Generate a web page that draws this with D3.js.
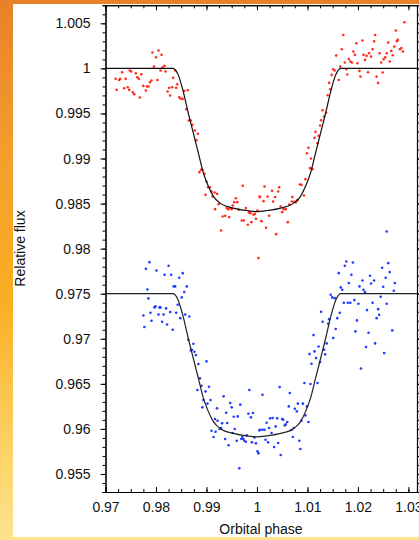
<!DOCTYPE html>
<html>
<head>
<meta charset="utf-8">
<script src="https://cdn.jsdelivr.net/npm/d3@7"></script>
<style>
html,body{margin:0;padding:0;}
body{width:419px;height:540px;overflow:hidden;background:linear-gradient(to bottom,#e8812a 0%,#f59f2c 30%,#f9ae22 55%,#fdd56a 85%,#fde28e 100%);}
svg{display:block;}
text{font-family:"Liberation Sans",Arial,Helvetica,sans-serif;}
</style>
</head>
<body>
<svg id="chart" width="419" height="540"></svg>
<script>
// ---------- data ----------
const xTickValues = [0.97, 0.98, 0.99, 1.0, 1.01, 1.02, 1.03];
const xTickLabels = ["0.97", "0.98", "0.99", "1", "1.01", "1.02", "1.03"];
const yTickValues = [0.955, 0.96, 0.965, 0.97, 0.975, 0.98, 0.985, 0.99, 0.995, 1.0, 1.005];
const yTickLabels = ["0.955", "0.96", "0.965", "0.97", "0.975", "0.98", "0.985", "0.99", "0.995", "1", "1.005"];
const xLabel = "Orbital phase";
const yLabel = "Relative flux";

// red (upper) light curve
const redPhase = [0.9720,0.9722,0.9727,0.9729,0.9733,0.9737,0.9740,0.9744,0.9748,0.9747,0.9751,0.9754,0.9757,0.9760,0.9763,0.9766,0.9768,0.9771,0.9775,0.9780,0.9782,0.9785,0.9788,0.9791,0.9793,0.9805,0.9800,0.9811,0.9796,0.9817,0.9813,0.9809,0.9803,0.9819,0.9823,0.9826,0.9828,0.9832,0.9834,0.9838,0.9840,0.9842,0.9846,0.9849,0.9853,0.9856,0.9863,0.9860,0.9865,0.9869,0.9872,0.9877,0.9880,0.9883,0.9886,0.9889,0.9892,0.9896,0.9898,0.9900,0.9903,0.9907,0.9910,0.9912,0.9916,0.9921,0.9917,0.9924,0.9929,0.9932,0.9937,0.9940,0.9943,0.9945,0.9947,0.9950,0.9952,0.9955,0.9958,0.9961,0.9964,0.9970,0.9972,0.9974,0.9978,0.9982,0.9984,0.9987,0.9989,0.9993,0.9996,0.9998,1.0001,1.0005,1.0003,
1.0006,1.0013,1.0015,1.0021,1.0030,1.0032,1.0036,1.0042,1.0044,1.0009,1.0018,1.0024,1.0038,1.0047,1.0050,1.0053,1.0057,1.0061,1.0064,1.0069,1.0070,1.0074,1.0077,1.0080,1.0085,1.0088,1.0093,1.0096,1.0099,1.0102,1.0105,1.0110,1.0107,1.0114,1.0116,1.0120,1.0122,1.0125,1.0127,1.0130,1.0133,1.0137,1.0140,1.0143,1.0145,1.0148,1.0151,1.0154,1.0157,1.0162,1.0165,1.0168,1.0171,1.0174,1.0177,1.0179,1.0182,1.0185,1.0188,1.0191,1.0194,1.0197,1.0199,1.0203,1.0205,1.0209,1.0211,1.0214,1.0217,1.0220,1.0222,1.0226,1.0229,1.0232,1.0234,1.0237,1.0240,1.0243,1.0246,1.0249,1.0251,1.0254,1.0257,1.0260,1.0263,1.0266,1.0269,1.0272,1.0275,1.0277,1.0279,1.0283,1.0286,1.0289,1.0292];
const redFlux = [0.99884,0.99762,0.99872,0.99884,0.99958,0.99780,0.99884,0.99791,0.99976,0.99762,0.99965,0.99736,0.99714,0.99946,0.99902,0.99884,0.99677,0.99935,0.99806,0.99754,0.99799,0.99799,0.99847,0.99865,1.00176,1.00198,1.00124,1.00150,1.00020,1.00028,1.00013,0.99976,0.99872,0.99965,0.99743,0.99784,0.99699,0.99791,0.99895,0.99976,0.99784,0.99824,0.99680,0.99662,0.99662,0.99751,0.99758,0.99547,0.99422,0.99422,0.99373,0.99311,0.99204,0.99274,0.98849,0.98875,0.98875,0.98830,0.98597,0.98745,0.98682,0.98682,0.98634,0.98579,0.98623,0.98608,0.98438,0.98494,0.98202,0.98357,0.98365,0.98450,0.98438,0.98350,0.98450,0.98438,0.98479,0.98516,0.98560,0.98516,0.98431,0.98313,0.98697,0.98313,0.98450,0.98265,0.98402,0.98394,0.98294,0.98376,0.98387,0.98331,0.98424,0.98579,0.97895,
0.98572,0.98527,0.98690,0.98579,0.98642,0.98523,0.98572,0.98634,0.98682,0.98305,0.98232,0.98365,0.98161,0.98468,0.98405,0.98438,0.98438,0.98294,0.98490,0.98523,0.98572,0.98520,0.98516,0.98538,0.98712,0.98708,0.98590,0.98771,0.99059,0.99119,0.98893,0.98882,0.99000,0.99229,0.99296,0.99170,0.99252,0.99366,0.99425,0.99536,0.99466,0.99507,0.99702,0.99839,0.99769,0.99928,0.99991,0.99976,1.00142,0.99872,1.00020,1.00213,1.00371,1.00065,0.99991,0.99932,1.00105,1.00076,1.00065,1.00187,1.00150,1.00279,1.00057,0.99972,0.99909,1.00309,1.00150,1.00094,1.00139,0.99958,1.00168,1.00131,1.00213,1.00301,1.00371,0.99909,0.99839,1.00168,1.00065,0.99954,1.00102,1.00124,1.00168,1.00286,1.00076,1.00194,1.00146,1.00242,1.00420,1.00301,1.00316,1.00213,1.00227,1.00187,1.00512];

// blue (lower) light curve
const bluePhase = [0.9775,0.9777,0.9780,0.9783,0.9785,0.9787,0.9789,0.9791,0.9797,0.9799,0.9801,0.9805,0.9807,0.9809,0.9812,0.9815,0.9817,0.9820,0.9822,0.9825,0.9828,0.9830,0.9833,0.9835,0.9838,0.9840,0.9843,0.9846,0.9848,0.9851,0.9853,0.9856,0.9858,0.9861,0.9866,0.9864,0.9869,0.9871,0.9874,0.9876,0.9879,0.9884,0.9887,0.9890,0.9894,0.9900,0.9898,0.9905,0.9902,0.9908,0.9892,0.9882,0.9910,0.9914,0.9917,0.9918,0.9921,0.9922,0.9926,0.9929,0.9931,0.9934,0.9937,0.9939,0.9941,0.9944,0.9947,0.9950,0.9952,0.9954,0.9956,0.9960,0.9962,0.9965,0.9967,0.9969,0.9971,0.9973,0.9975,0.9978,0.9980,0.9983,0.9985,0.9988,0.9990,0.9992,0.9995,0.9998,1.0001,1.0003,1.0005,
1.0006,1.0011,1.0015,1.0011,1.0017,1.0019,1.0022,1.0024,1.0026,1.0029,1.0031,1.0034,1.0037,1.0040,1.0042,1.0045,1.0047,1.0050,1.0052,1.0055,1.0057,1.0060,1.0063,1.0065,1.0068,1.0071,1.0073,1.0075,1.0079,1.0081,1.0084,1.0086,1.0088,1.0091,1.0094,1.0096,1.0099,1.0102,1.0104,1.0106,1.0108,1.0112,1.0114,1.0117,1.0120,1.0122,1.0125,1.0127,1.0130,1.0133,1.0135,1.0138,1.0141,1.0143,1.0146,1.0149,1.0151,1.0154,1.0156,1.0159,1.0162,1.0164,1.0166,1.0169,1.0172,1.0174,1.0177,1.0180,1.0182,1.0185,1.0187,1.0190,1.0193,1.0195,1.0198,1.0201,1.0203,1.0206,1.0209,1.0211,1.0214,1.0216,1.0218,1.0221,1.0224,1.0226,1.0229,1.0232,1.0234,1.0237,1.0240,1.0242,1.0245,1.0248,1.0250,1.0252,1.0255,1.0257,1.0260,1.0263,1.0268,1.0271,1.0273,1.0257];
const blueFlux = [0.97259,0.97130,0.97776,0.97547,0.97448,0.97850,0.97289,0.97200,0.97348,0.97359,0.97758,0.97270,0.97348,0.97348,0.97189,0.97270,0.97710,0.97337,0.97159,0.97810,0.97296,0.97710,0.97100,0.97581,0.97581,0.97289,0.97377,0.97677,0.97229,0.97459,0.97728,0.97518,0.97270,0.97581,0.97248,0.96989,0.96871,0.96878,0.96945,0.96856,0.96819,0.96719,0.96561,0.96479,0.96320,0.96749,0.96416,0.96468,0.96280,0.96320,0.96239,0.96431,0.95980,0.95910,0.96110,0.95969,0.96228,0.96091,0.95999,0.96010,0.96062,0.96361,0.95888,0.96180,0.96065,0.95818,0.96287,0.96239,0.95954,0.96135,0.95999,0.95869,0.96139,0.95563,0.96269,0.95888,0.95910,0.95888,0.95869,0.95858,0.95928,0.96169,0.96431,0.96128,0.95851,0.96176,0.95906,0.95840,0.95751,0.95729,0.95984,
0.95991,0.95991,0.95991,0.96379,0.95880,0.96069,0.95851,0.96010,0.96117,0.95954,0.96121,0.95799,0.96028,0.96117,0.95843,0.96464,0.95710,0.96110,0.96102,0.96039,0.96050,0.96076,0.96250,0.96398,0.95988,0.95910,0.96010,0.96224,0.96195,0.96280,0.95869,0.95777,0.96091,0.96280,0.96509,0.96150,0.96250,0.96076,0.96830,0.96498,0.96723,0.97041,0.96860,0.96786,0.96509,0.96915,0.96742,0.97300,0.97189,0.96878,0.96827,0.96949,0.97167,0.97218,0.97488,0.97459,0.97008,0.97451,0.97108,0.97229,0.97728,0.97289,0.97570,0.97544,0.97400,0.97810,0.97858,0.97400,0.97618,0.97400,0.97710,0.97847,0.97429,0.97082,0.97204,0.97388,0.97581,0.96671,0.97647,0.97544,0.97518,0.96908,0.97318,0.97067,0.97699,0.97614,0.97400,0.97647,0.96949,0.97229,0.97329,0.97266,0.97466,0.97788,0.97577,0.96841,0.97677,0.97388,0.97839,0.97740,0.97093,0.97533,0.97618,0.98190];

// fitted transit models
const modelPhase = [0.9700,0.9834,0.9844,0.9854,0.9864,0.9874,0.9884,0.9894,0.9904,0.9914,0.9927,0.9953,0.9980,1.0000,1.0020,1.0047,1.0073,1.0086,1.0096,1.0106,1.0116,1.0126,1.0136,1.0146,1.0156,1.0166,1.0317];
const modelRedFlux = [1.00000,1.00000,0.99928,0.99743,0.99503,0.99281,0.99060,0.98838,0.98689,0.98578,0.98505,0.98450,0.98423,0.98411,0.98423,0.98450,0.98505,0.98578,0.98689,0.98838,0.99060,0.99281,0.99503,0.99743,0.99928,1.00000,1.00000];
const modelBlueFlux = [0.97500,0.97500,0.97428,0.97243,0.97003,0.96781,0.96560,0.96338,0.96189,0.96078,0.96005,0.95950,0.95923,0.95911,0.95923,0.95950,0.96005,0.96078,0.96189,0.96338,0.96560,0.96781,0.97003,0.97243,0.97428,0.97500,0.97500];

// ---------- drawing ----------
const svg = d3.select("#chart");
svg.append("rect").attr("x", 13).attr("y", 4).attr("width", 410).attr("height", 533).attr("fill", "#ffffff");

const plotLeft = 105.5, plotRight = 417, plotTop = 5.3, plotBottom = 492;
const x = d3.scaleLinear().domain([0.97, 1.0317]).range([plotLeft, plotRight]);
const y = d3.scaleLinear().domain([0.953, 1.007]).range([plotBottom, plotTop]);

const xMinor = d3.range(0, 25).map(i => 0.97 + i * 0.0025).filter(v => v < 1.0317);
const yMinor = d3.range(0, 55).map(i => 0.953 + i * 0.001).filter(v => v <= 1.007);

function styleAxis(g) {
  g.selectAll("path.domain").attr("stroke", "#000").attr("stroke-width", 1.1);
  g.selectAll(".tick line").attr("stroke", "#000").attr("stroke-width", 1);
  g.selectAll("text").attr("fill", "#111").style("font-size", "14px")
    .style("font-family", '"Liberation Sans", Arial, Helvetica, sans-serif');
}

// bottom axis
const gB = svg.append("g").attr("transform", `translate(0,${plotBottom})`);
gB.call(d3.axisBottom(x).tickValues(xMinor).tickSize(-3).tickFormat(""));
gB.append("g").call(d3.axisBottom(x).tickValues(xTickValues).tickSizeInner(-5).tickSizeOuter(0).tickPadding(10)
  .tickFormat((d, i) => xTickLabels[i]));
styleAxis(gB);
// top axis
const gT = svg.append("g").attr("transform", `translate(0,${plotTop})`);
gT.call(d3.axisTop(x).tickValues(xMinor).tickSize(-3).tickFormat(""));
gT.append("g").call(d3.axisTop(x).tickValues(xTickValues).tickSizeInner(-5).tickSizeOuter(0).tickFormat(""));
styleAxis(gT);
// left axis
const gL = svg.append("g").attr("transform", `translate(${plotLeft},0)`);
gL.call(d3.axisLeft(y).tickValues(yMinor).tickSize(3).tickFormat(""));
gL.append("g").call(d3.axisLeft(y).tickValues(yTickValues).tickSizeInner(5).tickSizeOuter(0).tickPadding(10)
  .tickFormat((d, i) => yTickLabels[i]));
styleAxis(gL);
// right axis
const gR = svg.append("g").attr("transform", `translate(${plotRight},0)`);
gR.call(d3.axisRight(y).tickValues(yMinor).tickSize(3).tickFormat(""));
gR.append("g").call(d3.axisRight(y).tickValues(yTickValues).tickSizeInner(5).tickSizeOuter(0).tickFormat(""));
styleAxis(gR);

// data points
const red = redPhase.map((p, i) => ({p, f: redFlux[i]}));
const blue = bluePhase.map((p, i) => ({p, f: blueFlux[i]}));
svg.append("g").selectAll("circle").data(red).join("circle")
  .attr("cx", d => x(d.p)).attr("cy", d => y(d.f)).attr("r", 1.3).attr("fill", "#ff2d1f");
svg.append("g").selectAll("circle").data(blue).join("circle")
  .attr("cx", d => x(d.p)).attr("cy", d => y(d.f)).attr("r", 1.3).attr("fill", "#1d3dff");

// model lines
const line = d3.line().x(d => x(d[0])).y(d => y(d[1])).curve(d3.curveMonotoneX);
svg.append("path").datum(modelPhase.map((p, i) => [p, modelRedFlux[i]]))
  .attr("d", line).attr("fill", "none").attr("stroke", "#111").attr("stroke-width", 1.2);
svg.append("path").datum(modelPhase.map((p, i) => [p, modelBlueFlux[i]]))
  .attr("d", line).attr("fill", "none").attr("stroke", "#222").attr("stroke-width", 1.2);

// axis titles
svg.append("text").attr("x", 261).attr("y", 534).attr("text-anchor", "middle")
  .style("font-size", "14px").attr("fill", "#111").text(xLabel);
svg.append("text").attr("transform", "translate(24.5,248.5) rotate(-90)").attr("text-anchor", "middle")
  .style("font-size", "14px").attr("fill", "#111").text(yLabel);
</script>
</body>
</html>
